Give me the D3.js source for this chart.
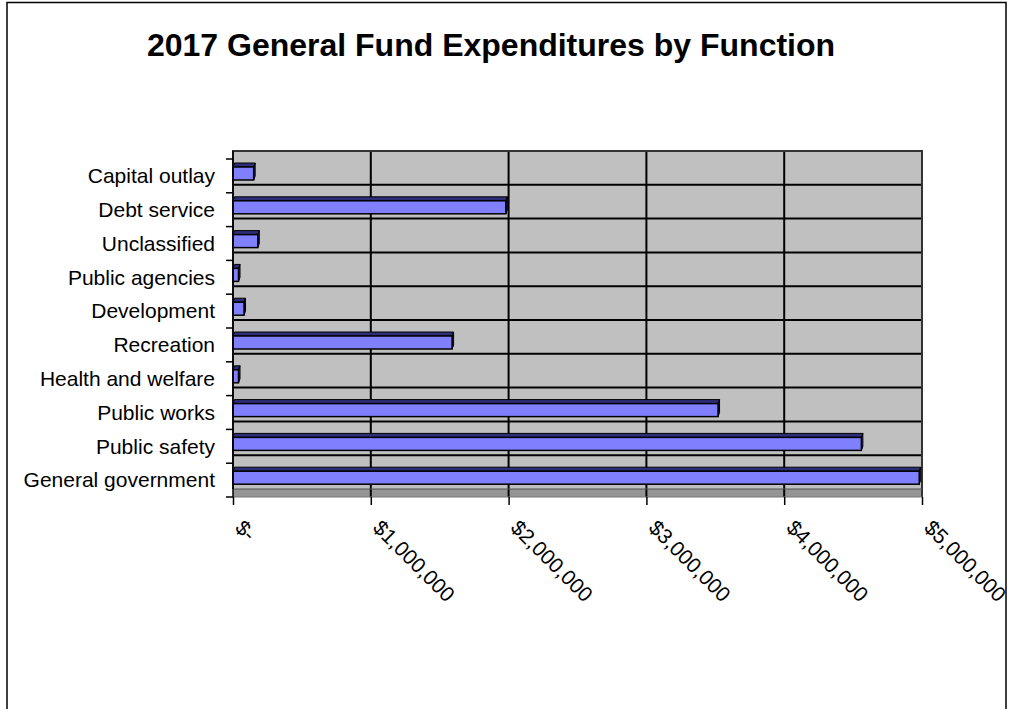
<!DOCTYPE html>
<html>
<head>
<meta charset="utf-8">
<script src="https://cdn.jsdelivr.net/npm/d3@7"></script>
<style>
  html, body { margin: 0; padding: 0; background: #fff; }
  svg { display: block; }
  text { font-family: "Liberation Sans", Arial, sans-serif; fill: #000; }
</style>
</head>
<body>
<svg id="chart" width="1019" height="709"></svg>
<script>
// Functions, listed top to bottom as drawn
const categories = [
  "Capital outlay", "Debt service", "Unclassified", "Public agencies",
  "Development", "Recreation", "Health and welfare", "Public works",
  "Public safety", "General government"
];
// 2017 General Fund expenditures in dollars
const expenditures = [
  150000, 1980000, 180000, 40000,
  80000, 1590000, 40000, 3520000,
  4560000, 4980000
];
const xTickValues = [0, 1000000, 2000000, 3000000, 4000000, 5000000];
const xTickLabels = ["$-", "$1,000,000", "$2,000,000", "$3,000,000", "$4,000,000", "$5,000,000"];
const chartTitle = "2017 General Fund Expenditures by Function";

const svg = d3.select("#chart");

// outer frame
svg.append("path")
  .attr("d", "M7,730 L7,2.5 L1006,2.5 L1006,730")
  .attr("fill", "none").attr("stroke", "#000").attr("stroke-width", 1.5);

// scales: front plane of the 3-D plot, back wall is shifted up by `depth`
const x = d3.scaleLinear().domain([0, 5000000]).range([233, 922]);
const y = d3.scaleBand().domain(categories).range([159, 497]).paddingInner(0).paddingOuter(0);
const depth = 8;
const wallTop = y.range()[0] - depth;
const wallBottom = y.range()[1] - depth;
const bw = y.bandwidth();

// back wall
svg.append("rect")
  .attr("x", x(0)).attr("y", wallTop)
  .attr("width", x(5000000) - x(0)).attr("height", wallBottom - wallTop)
  .attr("fill", "#c0c0c0");

// floor
svg.append("rect")
  .attr("x", x(0)).attr("y", wallBottom)
  .attr("width", x(5000000) - x(0)).attr("height", depth)
  .attr("fill", "#949494");

// vertical gridlines on the wall and floor
svg.append("g").selectAll("line").data(xTickValues.slice(1, -1)).join("line")
  .attr("x1", d => x(d)).attr("x2", d => x(d))
  .attr("y1", wallTop).attr("y2", y.range()[1])
  .attr("stroke", "#000").attr("stroke-width", 2);

// horizontal gridlines on the wall (category boundaries)
svg.append("g").selectAll("line").data(categories.slice(1)).join("line")
  .attr("x1", x(0)).attr("x2", x(5000000))
  .attr("y1", d => y(d) - depth).attr("y2", d => y(d) - depth)
  .attr("stroke", "#000").attr("stroke-width", 2);

// wall outline
svg.append("path")
  .attr("d", `M${x(0)},${wallBottom} L${x(0)},${wallTop} L${x(5000000)},${wallTop} L${x(5000000)},${y.range()[1]}`)
  .attr("fill", "none").attr("stroke", "#333").attr("stroke-width", 2);
svg.append("line")
  .attr("x1", x(0)).attr("x2", x(5000000))
  .attr("y1", wallBottom).attr("y2", wallBottom)
  .attr("stroke", "#555").attr("stroke-width", 1);
svg.append("line")
  .attr("x1", x(0)).attr("x2", x(5000000))
  .attr("y1", y.range()[1]).attr("y2", y.range()[1])
  .attr("stroke", "#777").attr("stroke-width", 1);

// 3-D bars
const barOffset = 8, barH = 13, barDepth = 4, barSide = 1.5;
const bars = svg.append("g").selectAll("g").data(categories.map((c, i) => ({ c, v: expenditures[i] }))).join("g");
bars.append("path")
  .attr("d", d => {
    const x0 = x(0), x1 = x(d.v), y0 = y(d.c) + barOffset;
    return `M${x0},${y0} L${x1},${y0} L${x1 + barSide},${y0 - barDepth} L${x0 + barSide},${y0 - barDepth} Z`;
  })
  .attr("fill", "#2e2e78").attr("stroke", "#000").attr("stroke-width", 1);
bars.append("path")
  .attr("d", d => {
    const x1 = x(d.v), y0 = y(d.c) + barOffset;
    return `M${x1},${y0} L${x1 + barSide},${y0 - barDepth} L${x1 + barSide},${y0 + barH - barDepth} L${x1},${y0 + barH} Z`;
  })
  .attr("fill", "#2e2e78").attr("stroke", "#000").attr("stroke-width", 1);
bars.append("rect")
  .attr("x", x(0)).attr("y", d => y(d.c) + barOffset)
  .attr("width", d => x(d.v) - x(0)).attr("height", barH)
  .attr("fill", "#8080ff").attr("stroke", "#000").attr("stroke-width", 1.5);

// category axis
const yAxis = d3.axisLeft(y).tickSize(0).tickFormat("");
svg.append("g").attr("transform", `translate(${x(0)},0)`).call(yAxis)
  .call(g => g.select(".domain").attr("stroke", "#000").attr("stroke-width", 1.5)
    .attr("d", `M0,${wallTop}V${y.range()[1]}`));
svg.append("g").selectAll("line").data(categories.map(c => y(c)).concat([y.range()[1]])).join("line")
  .attr("x1", x(0) - 7).attr("x2", x(0))
  .attr("y1", d => d).attr("y2", d => d)
  .attr("stroke", "#000").attr("stroke-width", 1.5);
svg.append("g").selectAll("text").data(categories).join("text")
  .attr("x", 215).attr("y", d => y(d) + bw / 2)
  .attr("dy", "0.35em").attr("text-anchor", "end")
  .style("font-size", "21px")
  .text(d => d);

// value axis
const xAxis = d3.axisBottom(x).tickValues(xTickValues).tickSize(8).tickFormat("");
svg.append("g").attr("transform", `translate(0,${y.range()[1]})`).call(xAxis)
  .call(g => g.select(".domain").remove())
  .call(g => g.selectAll(".tick line").attr("stroke", "#000").attr("stroke-width", 1.5));
svg.append("g").selectAll("text").data(xTickValues).join("text")
  .attr("transform", d => `translate(${x(d) + 1},529) rotate(45)`)
  .attr("text-anchor", "start")
  .style("font-size", "21px")
  .text((d, i) => xTickLabels[i]);

// title
svg.append("text")
  .attr("x", 491).attr("y", 56)
  .attr("text-anchor", "middle")
  .style("font-size", "32px").style("font-weight", "bold")
  .text(chartTitle);
</script>
</body>
</html>
